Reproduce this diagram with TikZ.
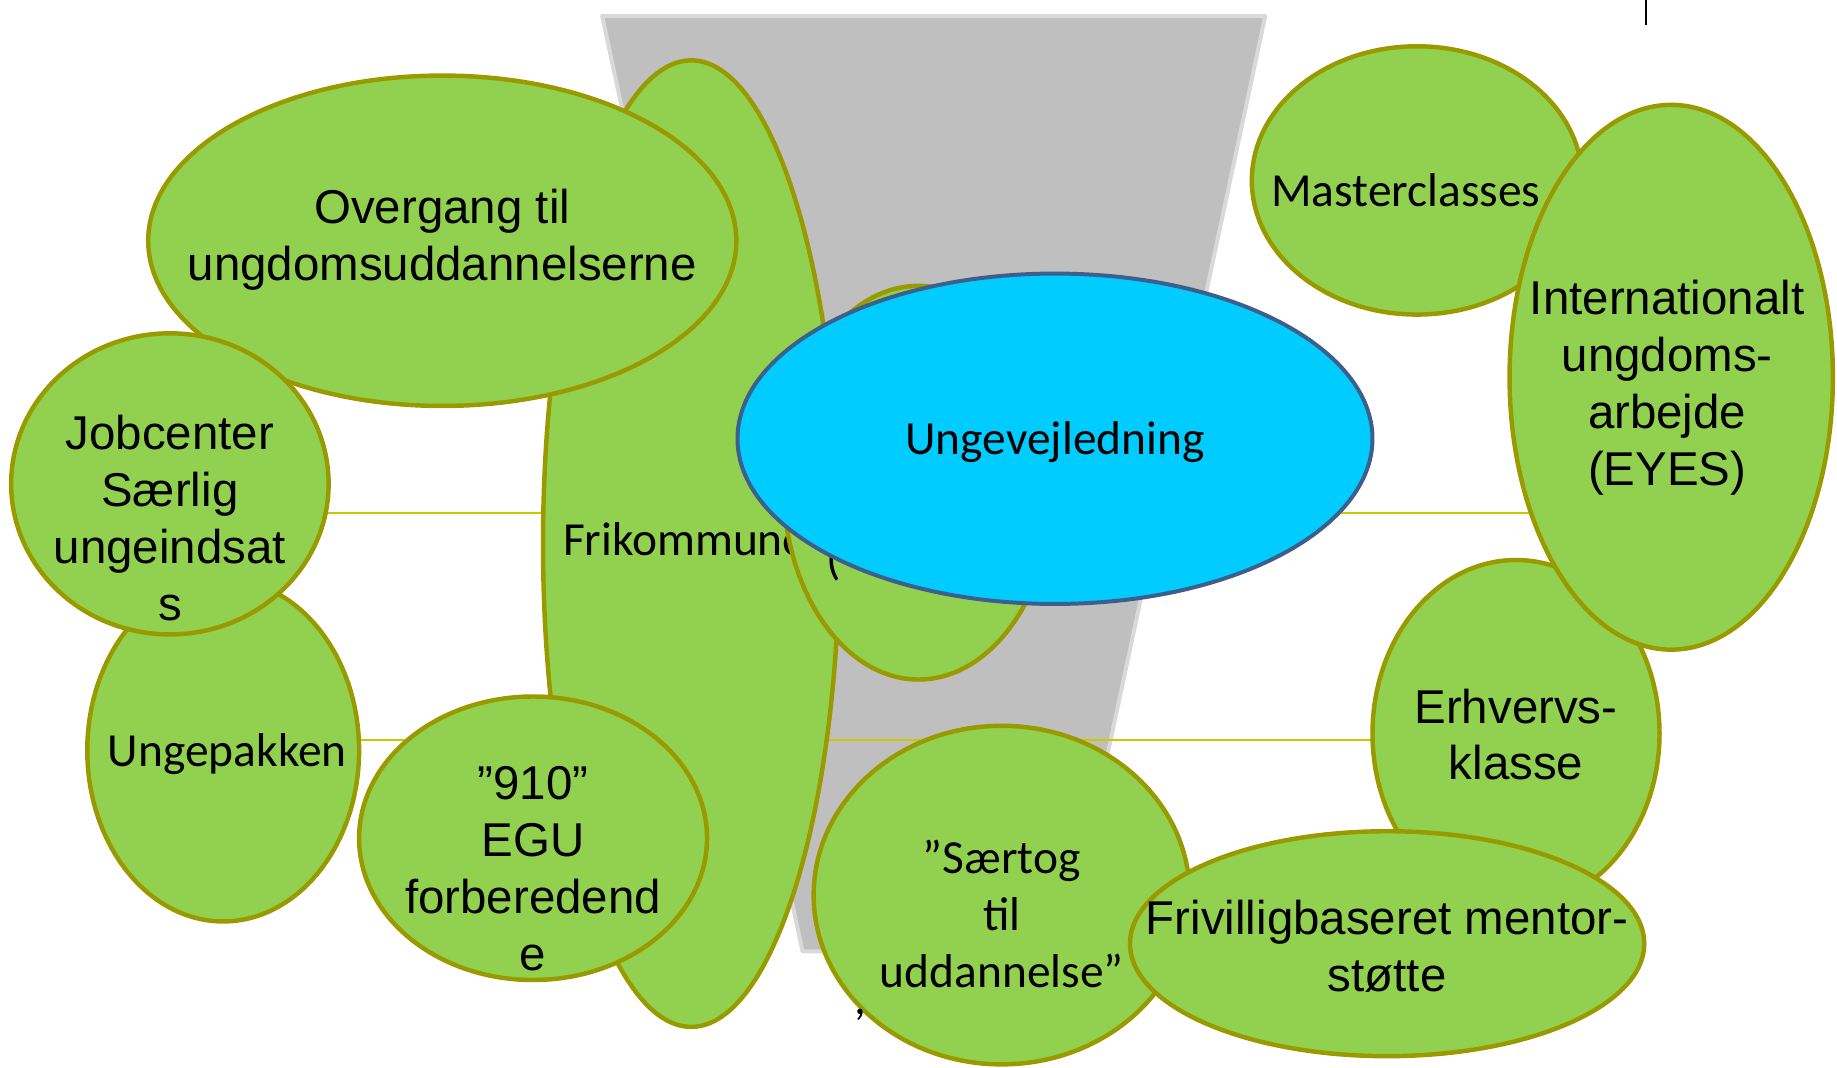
\documentclass[tikz,border=0pt]{standalone}
\usepackage{fontspec}
\setmainfont{Carlito}
\newfontfamily\arialfont{Liberation Sans}
\usetikzlibrary{shapes.geometric}
\definecolor{blobfill}{HTML}{92D050}
\definecolor{blobrim}{HTML}{999900}
\definecolor{hubfill}{HTML}{00CCFF}
\definecolor{hubrim}{HTML}{3C5F8C}
\definecolor{funnelfill}{HTML}{BFBFBF}
\definecolor{funnelrim}{HTML}{D9D9D9}
\definecolor{linkyellow}{HTML}{CCC800}
\begin{document}
\begin{tikzpicture}[x=1pt, y=-1pt,
        blob/.style = {ellipse, draw=blobrim, fill=blobfill, line width=3.8pt, inner sep=0pt},
        hub/.style  = {ellipse, draw=hubrim, fill=hubfill, line width=3.4pt, inner sep=0pt},
        txt/.style  = {font=\fontsize{40.5}{48.5}\selectfont, align=center, inner sep=0pt},
        atxt/.style = {txt, font=\fontsize{40.5}{48.5}\selectfont\arialfont},
        link/.style = {draw=linkyellow, line width=1.8pt}
    ]
    \useasboundingbox (0,0) rectangle (1568,911);
    % funnel behind
    \filldraw[fill=funnelfill, draw=funnelrim, line width=3.4pt, line join=round]
        (514,13.7) -- (1080,13.7) -- (909.5,812) -- (685,812) -- cycle;
    % connecting lines
    \coordinate (job end) at (145,438);
    \coordinate (eyes end) at (1426,438);
    \coordinate (pak end) at (190,632);
    \coordinate (erh end) at (1294,632);
    \draw[link] (job end) -- (eyes end);
    \draw[link] (pak end) -- (erh end);
    % left side
    \node[blob, minimum width=253pt, minimum height=825pt,
        label={[txt, xshift=-5.5pt, yshift=4pt]center:Frikommune}] (frik) at (590,464) {};
    \node[blob, minimum width=502pt, minimum height=282pt,
        label={[atxt, yshift=1pt]center:{Overgang til\\ungdomsuddannelserne}}] (overgang) at (377.5,205.5) {};
    \node[blob, minimum width=232pt, minimum height=292pt,
        label={[txt, xshift=3.5pt, yshift=-3pt]center:Ungepakken}] (pak) at (190.5,640.5) {};
    \node[blob, minimum width=271pt, minimum height=257pt,
        label={[atxt, yshift=-29pt]center:{Jobcenter\\Særlig\\ungeindsat\\s}}] (job) at (145,413) {};
    \node[blob, minimum width=297pt, minimum height=242pt,
        label={[atxt, yshift=-26pt]center:{”910”\\EGU\\forberedend\\e}}] (egu) at (455,715.5) {};
    % centre
    \node[blob, minimum width=231pt, minimum height=336pt,
        label={[txt, xshift=-72pt, yshift=-66pt]center:(}] (mid) at (784,412) {};
    \node[hub, minimum width=542pt, minimum height=282pt,
        label={[txt, yshift=-3pt]center:Ungevejledning}] (hub) at (900.5,374.5) {};
    % right side
    \node[blob, minimum width=282pt, minimum height=229pt,
        label={[txt, xshift=-9.5pt, yshift=-8pt]center:Masterclasses}] (master) at (1209.5,154) {};
    \node[blob, minimum width=245pt, minimum height=296pt,
        label={[atxt, yshift=-1pt]center:{Erhvervs-\\klasse}}] (erh) at (1294,626) {};
    \node[blob, minimum width=276pt, minimum height=465pt,
        label={[atxt, xshift=-3.5pt, yshift=-9pt]center:{Internationalt\\ungdoms-\\arbejde\\(EYES)}}] (eyes) at (1426.5,322) {};
    \node[blob, minimum width=321pt, minimum height=289pt,
        label={[txt, yshift=-16pt]center:{”Særtog\\til\\uddannelse”}}] (saertog) at (855,764) {};
    \node[blob, minimum width=439pt, minimum height=192pt,
        label={[atxt, yshift=-2.5pt]center:{Frivilligbaseret mentor-\\støtte}}] (friv) at (1184,805.5) {};
    \node[txt] (comma) at (734,866) {,};
    % mark at the top
    \coordinate (tick top) at (1405,0);
    \coordinate (tick foot) at (1405,21);
    \draw[line width=1.5pt] (tick top) -- (tick foot);
\end{tikzpicture}
\end{document}
